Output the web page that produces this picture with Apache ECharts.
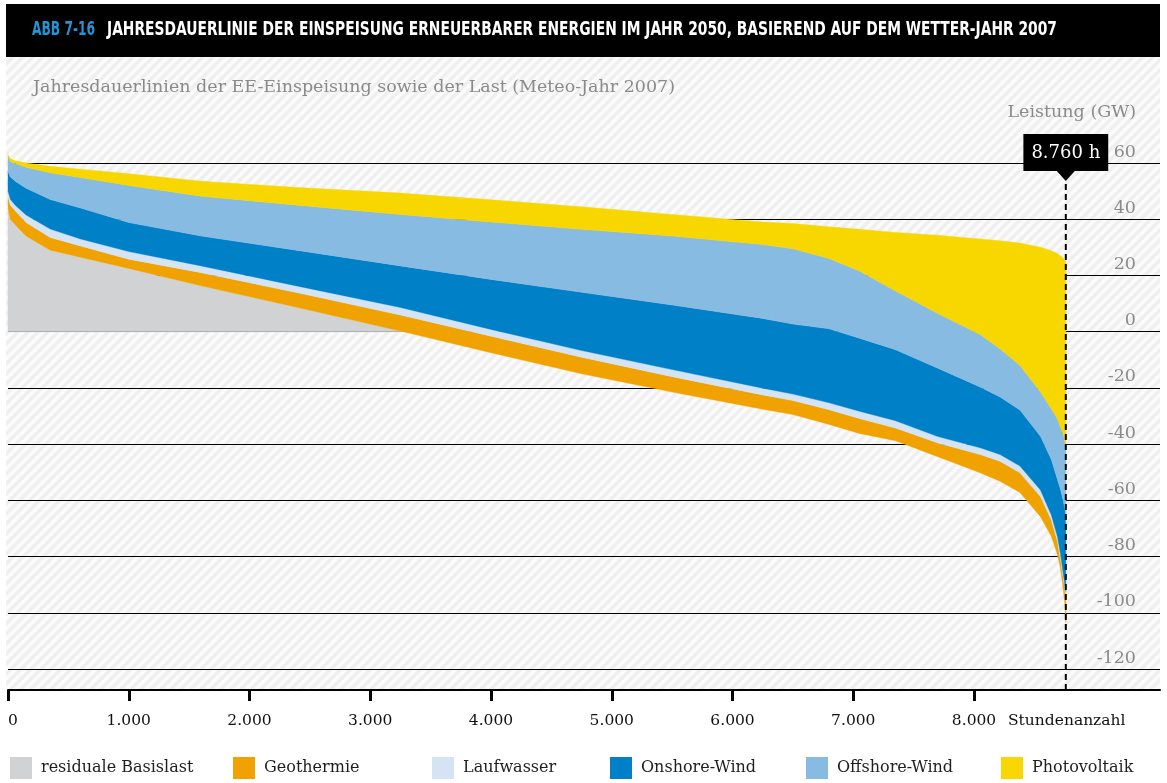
<!DOCTYPE html>
<html><head><meta charset="utf-8">
<script src="https://cdn.jsdelivr.net/npm/echarts@6/dist/echarts.min.js"></script>
<style>html,body{margin:0;padding:0;background:#fff}#c{width:1167px;height:783px}</style>
</head><body><div id="c"></div>
<script>
// ---- data (GW): upper edge of each band in the stacked duration curve
const hours = [0, 20, 60, 150, 350, 600, 1000, 1600, 2400, 3250, 4000, 4750, 5500, 6250, 6500, 6800, 7050, 7350, 7700, 8050, 8215, 8380, 8550, 8640, 8690, 8715, 8740, 8755, 8760];
const residualLoad = [44, 40, 38, 34, 29, 26.5, 22.5, 16.3, 8.6, 0.2, -7.5, -15.0, -21.5, -27.6, -29.5, -33.0, -36.2, -38.8, -44.5, -50.2, -53.2, -57.2, -65.8, -72.8, -79.2, -84, -92, -98, -103.5];
const geoTop = [48, 45, 43, 38.8, 33.5, 30.5, 25.8, 21.0, 13.8, 5.9, -1.6, -9.1, -16.0, -22.5, -24.5, -27.8, -30.9, -34.3, -39.6, -43.7, -46.1, -50.2, -58.6, -67, -74.5, -80.8, -88, -93, -95];
const hydroTop = [50, 47, 45, 41.5, 36.5, 33, 28.5, 23.4, 16.2, 8.6, 0.8, -6.7, -13.5, -20.1, -22.2, -25.3, -28.3, -31.7, -37.3, -41.3, -43.7, -47.8, -56.3, -65.2, -72.8, -78.8, -86.5, -91, -92.4];
const onshoreTop = [57, 55, 53.5, 51, 47, 44, 38.8, 34.0, 28.9, 23.4, 18.6, 14.0, 9.5, 4.7, 2.7, 1.0, -2.3, -6.4, -13, -19.7, -23.2, -27.9, -37.2, -45.5, -52.5, -56, -60.3, -64, -68];
const offshoreTop = [62.5, 60.5, 59.8, 58.5, 56.5, 54.8, 52.0, 48.2, 45.0, 41.7, 39.0, 36.4, 34.0, 31.0, 29.5, 26, 21.6, 14.5, 6.5, -1.0, -6.1, -12.0, -21.5, -27.5, -31, -33.8, -36.5, -40.3, -42];
const pvTop = [63, 61.5, 60.8, 60, 58.8, 57.8, 56.2, 53.5, 51.3, 49.3, 46.9, 44.4, 41.7, 39.0, 38.5, 37.3, 36.4, 35.3, 34.3, 33.0, 32.3, 31.5, 30.0, 28.8, 27.8, 27.0, 26.0, 25.2, 24.5];
const xTicks = [0, 1000, 2000, 3000, 4000, 5000, 6000, 7000, 8000];
const markerHour = 8760;
const names = ['residuale Basislast', 'Geothermie', 'Laufwasser', 'Onshore-Wind', 'Offshore-Wind', 'Photovoltaik'];
const colors = ['#d1d2d4', '#efa200', '#d4e4f4', '#0080c6', '#88bbe2', '#f8d600'];

// ---- helpers
const serif = '"DejaVu Serif", serif';
function measure(font, text) { const c = document.createElement('canvas').getContext('2d'); c.font = font; return c.measureText(text).width; }
function hatch() {
  const s = 10, c = document.createElement('canvas'); c.width = s; c.height = s;
  const g = c.getContext('2d');
  g.fillStyle = '#fbfbfb'; g.fillRect(0, 0, s, s);
  g.strokeStyle = '#efefef'; g.lineWidth = 3.5; g.beginPath();
  g.moveTo(-2, s + 2); g.lineTo(s + 2, -2);
  g.moveTo(-2, 2); g.lineTo(2, -2);
  g.moveTo(s - 2, s + 2); g.lineTo(s + 2, s - 2);
  g.stroke();
  return c;
}
const zeros = hours.map(() => 0);
const residualPositive = residualLoad.map(v => Math.max(v, 0));
// bands: [top edge, bottom edge]
const bands = [
  [residualPositive, zeros],
  [geoTop, residualLoad],
  [hydroTop, geoTop],
  [onshoreTop, hydroTop],
  [offshoreTop, onshoreTop],
  [pvTop, offshoreTop]
];

const titleFont = 'bold 19px "DejaVu Sans Condensed", "DejaVu Sans", sans-serif';
const tA = 'ABB 7-16';
const tB = 'JAHRESDAUERLINIE DER EINSPEISUNG ERNEUERBARER ENERGIEN IM JAHR 2050, BASIEREND AUF DEM WETTER-JAHR 2007';
const subFont = '16.5px ' + serif;
const subText = 'Jahresdauerlinien der EE-Einspeisung sowie der Last (Meteo-Jahr 2007)';

function bandSeries(idx) {
  const top = bands[idx][0], bottom = bands[idx][1];
  return {
    name: names[idx], type: 'custom', coordinateSystem: 'cartesian2d', clip: false, silent: true,
    color: colors[idx], itemStyle: { color: colors[idx] }, z: 2 + idx,
    data: [[hours[0], top[0]]],
    renderItem: function (params, api) {
      const pts = [];
      for (let k = 0; k < hours.length; k++) pts.push(api.coord([hours[k], top[k]]));
      for (let k = hours.length - 1; k >= 0; k--) pts.push(api.coord([hours[k], bottom[k]]));
      return { type: 'polygon', shape: { points: pts }, style: { fill: colors[idx], stroke: colors[idx], lineWidth: 0.4 } };
    }
  };
}

const legendLeft = [10, 233, 432, 610, 806, 1001];
const legends = names.map((n, i) => ({
  data: [n], left: legendLeft[i], top: 757, padding: 0, icon: 'rect', itemWidth: 22, itemHeight: 22,
  selectedMode: false, itemStyle: { borderWidth: 0 },
  textStyle: { fontFamily: serif, fontSize: 16, color: '#1e1e1e', padding: [0, 0, 0, 4] }
}));

const chart = echarts.init(document.getElementById('c'));
chart.setOption({
  animation: false,
  backgroundColor: '#fff',
  grid: { left: 8, right: 7, top: 163, bottom: 114, containLabel: false },
  legend: legends,
  xAxis: {
    type: 'value', min: 0, max: 9540, offset: 21,
    axisLine: { show: true, onZero: false, lineStyle: { color: '#000', width: 2 } },
    axisTick: { show: true, customValues: xTicks, length: 11, lineStyle: { color: '#000', width: 3 } },
    axisLabel: {
      customValues: xTicks, margin: 23, alignMinLabel: 'left',
      fontFamily: serif, fontSize: 15.5, color: '#111',
      formatter: v => v === 0 ? '0' : (v / 1000).toFixed(3)
    },
    splitLine: { show: false }
  },
  yAxis: {
    type: 'value', position: 'right', min: -120, max: 60, interval: 20,
    axisLine: { show: false }, axisTick: { show: false },
    axisLabel: { inside: true, margin: 24, align: 'right', verticalAlign: 'bottom', padding: [0, 0, 2, 0], fontFamily: serif, fontSize: 17.5, color: '#8a8a8a' },
    splitLine: { show: true, lineStyle: { color: '#000', width: 1 } }
  },
  graphic: [
    { type: 'rect', z: -10, silent: true, shape: { x: 6, y: 57, width: 1154, height: 633 }, style: { fill: { image: hatch(), repeat: 'repeat' } } },
    { type: 'rect', z: 10, silent: true, shape: { x: 6, y: 4, width: 1154, height: 53 }, style: { fill: '#000' } },
    { type: 'text', z: 11, silent: true, x: 32, y: 30, scaleX: 63 / measure(titleFont, tA),
      style: { text: tA, font: titleFont, fill: '#2196d6', verticalAlign: 'middle', align: 'left' } },
    { type: 'text', z: 11, silent: true, x: 107, y: 30, scaleX: 950 / measure(titleFont, tB),
      style: { text: tB, font: titleFont, fill: '#fff', verticalAlign: 'middle', align: 'left' } },
    { type: 'text', z: 11, silent: true, x: 33, y: 88, scaleX: 642 / measure(subFont, subText),
      style: { text: subText, font: subFont, fill: '#8a8a8a', verticalAlign: 'middle', align: 'left' } },
    { type: 'text', z: 11, silent: true, x: 1136, y: 112,
      style: { text: 'Leistung (GW)', font: '17.5px ' + serif, fill: '#8a8a8a', verticalAlign: 'middle', align: 'right' } },
    { type: 'text', z: 11, silent: true, x: 1008, y: 721,
      style: { text: 'Stundenanzahl', font: '15.5px ' + serif, fill: '#111', verticalAlign: 'middle', align: 'left' } }
  ],
  series: bands.map((b, i) => bandSeries(i)).concat([
    { name: 'marker', type: 'line', data: [[markerHour, -127.5], [markerHour, 54]], clip: false, symbol: 'none', z: 9, silent: true,
      lineStyle: { color: '#000', width: 2, type: [6, 4] }, emphasis: { disabled: true },
      markPoint: {
        symbol: 'triangle', symbolRotate: 180, symbolSize: [18, 10], itemStyle: { color: '#000' }, silent: true,
        data: [{ coord: [markerHour, 55.4], value: 0 }],
        label: { show: true, position: 'top', distance: 0, formatter: '8.760 h', backgroundColor: '#000', color: '#fff',
          padding: [7, 8, 5, 8], fontFamily: serif, fontSize: 18, lineHeight: 25 }
      } }
  ])
});
</script></body></html>
